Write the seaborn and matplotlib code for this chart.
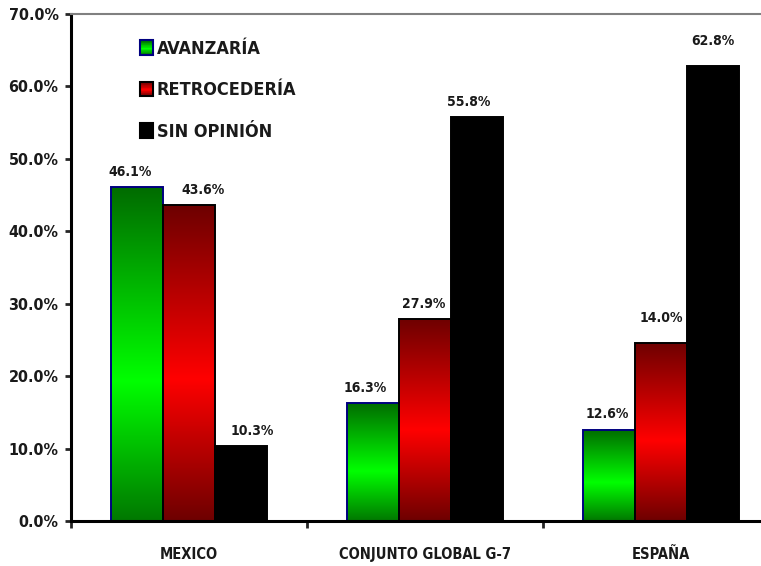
import numpy as np
import pandas as pd
import matplotlib
matplotlib.use("Agg")
import matplotlib.pyplot as plt
import seaborn as sns
from matplotlib.colors import LinearSegmentedColormap
from matplotlib.legend_handler import HandlerBase
from matplotlib.patches import Rectangle

# data
categories = ["MEXICO", "CONJUNTO GLOBAL G-7", "ESPAÑA"]
series = ["AVANZARÍA", "RETROCEDERÍA", "SIN OPINIÓN"]
avanzaria = [46.1, 16.3, 12.6]
retrocederia = [43.6, 27.9, 24.6]
sin_opinion = [10.3, 55.8, 62.8]
# labels as printed on the chart (the ESPAÑA red bar is labelled 14.0%)
labels_avanzaria = ["46.1%", "16.3%", "12.6%"]
labels_retrocederia = ["43.6%", "27.9%", "14.0%"]
labels_sin_opinion = ["10.3%", "55.8%", "62.8%"]
yticks = [0, 10, 20, 30, 40, 50, 60, 70]

df = pd.DataFrame({
    "pais": categories * 3,
    "serie": [series[0]] * 3 + [series[1]] * 3 + [series[2]] * 3,
    "valor": avanzaria + retrocederia + sin_opinion,
})
all_labels = [labels_avanzaria, labels_retrocederia, labels_sin_opinion]
# hand placed labels in the original: small nudges (points)
nudges = [[(-5, 0), (-6, 0), (-1, 0)],
          [(10, 0), (-1, 0), (0, 7)],
          [(8, 0), (-6, 0), (0, 7)]]

sns.set_style("white")
plt.rcParams['font.family'] = ['Liberation Sans Narrow', 'DejaVu Sans']
plt.rcParams['font.stretch'] = 'condensed'
plt.rcParams['font.weight'] = 'bold'

green_cm = LinearSegmentedColormap.from_list(
    "g", [(0, (0, 0.42, 0)), (0.58, (0, 1, 0)), (1, (0, 0.47, 0))])
red_cm = LinearSegmentedColormap.from_list(
    "r", [(0, (0.43, 0, 0)), (0.55, (1, 0, 0)), (1, (0.43, 0, 0))])
black_cm = LinearSegmentedColormap.from_list("k", ["black", "black"])
cmaps = [green_cm, red_cm, black_cm]
edges = ["#000080", "black", "black"]
txt = "#1a1a1a"

fig = plt.figure(figsize=(7.61, 5.66), dpi=100)
ax = fig.add_axes([71 / 761, 45 / 566, 708 / 761, 507 / 566])

sns.barplot(data=df, x="pais", y="valor", hue="serie", order=categories,
            hue_order=series, palette=["#00c000", "#e00000", "black"],
            width=0.66, saturation=1, legend=False, ax=ax)

grad = np.linspace(0, 1, 256).reshape(-1, 1)
for i, cont in enumerate(ax.containers):
    for j, bar in enumerate(cont):
        x0, w, h = bar.get_x(), bar.get_width(), bar.get_height()
        im = ax.imshow(grad, cmap=cmaps[i], aspect="auto", origin="upper",
                       extent=[x0, x0 + w, 0, h], zorder=1)
        im.set_clip_path(bar)
        bar.set_facecolor("none")
        bar.set_edgecolor(edges[i])
        bar.set_linewidth(1.4)
        bar.set_zorder(2)
        dx, dy = nudges[i][j]
        ax.annotate(all_labels[i][j], (x0 + w / 2, h), xytext=(dx, 6 + dy),
                    textcoords="offset points", ha="center", va="bottom",
                    fontsize=10, fontweight="bold", color=txt)

ax.set_xlim(-0.5, 2.5)
ax.set_ylim(0, 70)
ax.set_yticks(yticks)
ax.set_yticklabels([f"{v:.1f}%" for v in yticks], fontsize=11.5,
                   fontweight="bold", color=txt)
ax.set_xticks([-0.5, 0.5, 1.5, 2.5])
ax.set_xticklabels([])
ax.set_xticks([0, 1, 2], minor=True)
ax.set_xticklabels(categories, minor=True, fontsize=10.5, fontweight="bold",
                   color=txt)
ax.tick_params(axis="x", which="major", direction="out", length=5, width=2, bottom=True)
ax.tick_params(axis="x", which="minor", length=0, pad=19)
ax.tick_params(axis="y", direction="out", length=4, width=2, left=True, pad=5)
ax.set_xlabel("")
ax.set_ylabel("")

for s in ["left", "bottom"]:
    ax.spines[s].set_color("black")
    ax.spines[s].set_linewidth(2.2)
ax.spines["top"].set_color("#808080")
ax.spines["top"].set_linewidth(1.5)
ax.spines["right"].set_visible(False)


class GradientHandler(HandlerBase):
    def __init__(self, cmap, edge):
        super().__init__()
        self.cmap = cmap
        self.edge = edge

    def create_artists(self, legend, orig_handle, xdescent, ydescent,
                       width, height, fontsize, trans):
        arts = []
        n = 20
        for k in range(n):
            y = -ydescent + height * (1 - (k + 1) / n)
            arts.append(Rectangle((-xdescent, y), width, height / n,
                                  facecolor=self.cmap(k / (n - 1)),
                                  edgecolor="none", transform=trans))
        arts.append(Rectangle((-xdescent, -ydescent), width, height,
                              facecolor="none", edgecolor=self.edge,
                              lw=1.5, transform=trans))
        return arts


handles = [Rectangle((0, 0), 1, 1) for _ in series]
leg = ax.legend(handles, series, loc="upper left", bbox_to_anchor=(0.0975, 0.949),
                frameon=False, borderpad=0, borderaxespad=0,
                handlelength=0.72, handleheight=0.85, handletextpad=0.2,
                labelspacing=1.3,
                handler_map={h: GradientHandler(cmaps[i], edges[i])
                             for i, h in enumerate(handles)},
                prop={"weight": "bold", "size": 13, "stretch": "condensed"})
for t in leg.get_texts():
    t.set_color(txt)

fig.savefig("out.png", dpi=100)
